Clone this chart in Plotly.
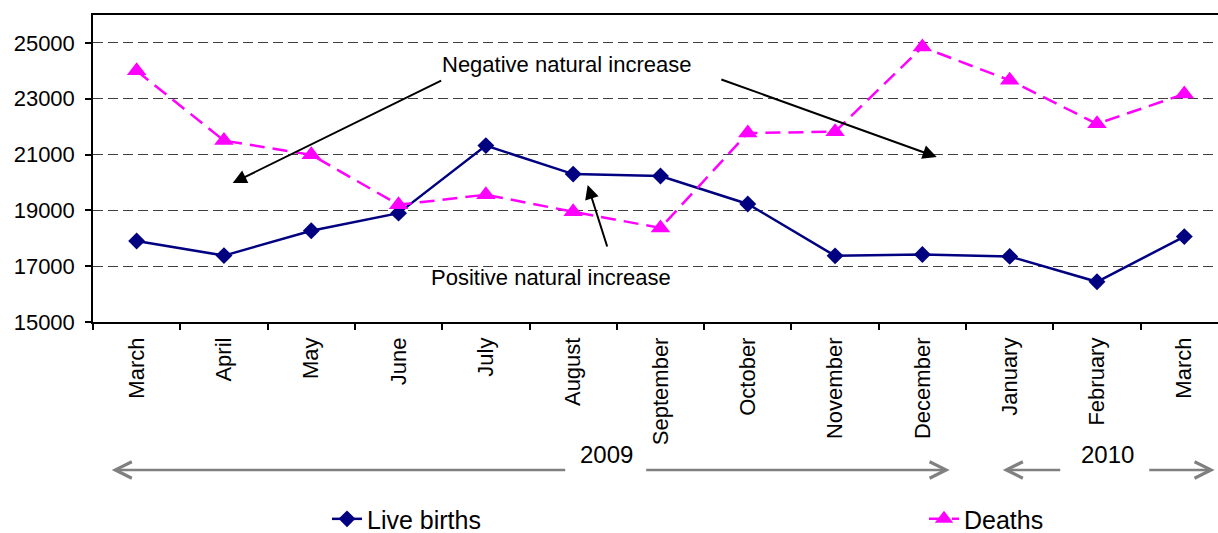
import plotly.graph_objects as go

months = ["March", "April", "May", "June", "July", "August", "September",
          "October", "November", "December", "January", "February", "March"]
live_births = [17900, 17380, 18270, 18900, 21320, 20300, 20230,
               19230, 17370, 17420, 17350, 16440, 18060]
deaths = [24000, 21500, 20990, 19200, 19560, 18950, 18370,
          21770, 21820, 24850, 23660, 22100, 23170]
years = ["2009", "2010"]
y_ticks = [15000, 17000, 19000, 21000, 23000, 25000]

x_idx = list(range(len(months)))
FONT = "Liberation Sans, Arial, sans-serif"

fig = go.Figure()
fig.add_trace(go.Scatter(
    x=x_idx, y=live_births, name="Live births", mode="lines+markers",
    line=dict(color="#000080", width=2.5),
    marker=dict(symbol="diamond", size=13, color="#000080"),
    legend="legend",
))
fig.add_trace(go.Scatter(
    x=x_idx, y=deaths, name="Deaths", mode="lines+markers",
    line=dict(color="#FF00FF", width=2.5, dash="15px,8px"),
    marker=dict(symbol="triangle-up", size=17, color="#FF00FF"),
    legend="legend2",
))

ann = []
ann.append(dict(x=4.926, y=24211, xref="x", yref="y", text="Negative natural increase",
                showarrow=False, font=dict(family=FONT, size=22, color="black")))
ann.append(dict(x=4.751, y=16577, xref="x", yref="y", text="Positive natural increase",
                showarrow=False, font=dict(family=FONT, size=22, color="black")))
for hx, hy, tx, ty in [(1.10, 19982, 3.505, 23674),
                       (9.164, 20914, 6.68, 23710),
                       (5.166, 19910, 5.395, 17652)]:
    ann.append(dict(x=hx, y=hy, ax=tx, ay=ty, xref="x", yref="y", axref="x", ayref="y",
                    text="", showarrow=True, arrowhead=2, arrowsize=1.4, arrowwidth=2,
                    arrowcolor="black"))
YR = -0.482
for hx, tx in [(-0.286, 4.926), (9.313, 5.819), (9.92, 10.596), (12.348, 11.581)]:
    ann.append(dict(x=hx, y=YR, ax=tx, ay=0, xref="x", yref="y domain", axref="x",
                    ayref="pixel", text="", showarrow=True, arrowhead=5, arrowsize=1.3,
                    arrowwidth=2.5, arrowcolor="#808080"))
for lbl, xc in zip(years, [5.384, 11.12]):
    ann.append(dict(x=xc, y=YR, xref="x", yref="y domain", text=lbl, showarrow=False,
                    font=dict(family=FONT, size=24, color="black")))

legend_common = dict(orientation="h", y=-0.642, yanchor="middle", xanchor="left",
                     font=dict(family=FONT, size=25, color="black"),
                     bgcolor="rgba(0,0,0,0)")

fig.update_layout(
    width=1218, height=533,
    margin=dict(l=93, r=0, t=15, b=211, autoexpand=False),
    paper_bgcolor="white", plot_bgcolor="white",
    font=dict(family=FONT, color="black"),
    annotations=ann,
    showlegend=True,
    legend=dict(x=(327 - 93) / 1125, **legend_common),
    legend2=dict(x=(924 - 93) / 1125, **legend_common),
    xaxis=dict(
        range=[-0.5, 12.386], tickmode="array", tickvals=x_idx, ticktext=months,
        tickangle=-90, ticks="", tickfont=dict(family=FONT, size=22, color="black"),
        ticklabelstandoff=5, automargin=False,
        showgrid=False, zeroline=False, showline=True, linecolor="black", linewidth=1.5,
        mirror=True,
        minor=dict(tick0=0.5, dtick=1, ticks="outside", ticklen=6, tickcolor="black",
                   tickwidth=1.5, showgrid=False),
    ),
    yaxis=dict(
        range=[15000, 26000], tickmode="array", tickvals=y_ticks,
        ticktext=[str(v) for v in y_ticks], automargin=False,
        ticks="outside", ticklen=6, tickcolor="black", tickwidth=1.5,
        tickfont=dict(family=FONT, size=22, color="black"), ticklabelstandoff=6,
        showgrid=True, gridcolor="#404040", gridwidth=1, griddash="10px,5px",
        zeroline=False, showline=True, linecolor="black", linewidth=1.5, mirror=False,
    ),
)

fig.write_html("out.html",
               config={"displayModeBar": False},
               post_script="document.body.style.margin='0';"
                           "document.body.style.overflow='hidden';")
